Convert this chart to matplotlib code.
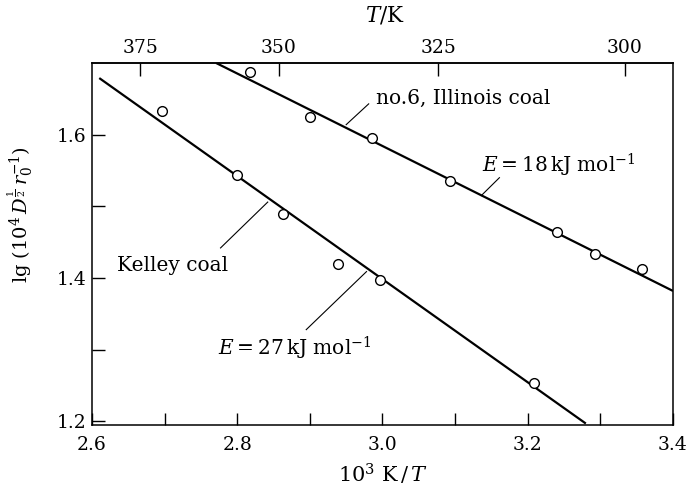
import matplotlib
matplotlib.use("Agg")
import matplotlib.pyplot as plt
import numpy as np

plt.rcParams['font.family'] = ['DejaVu Serif']
plt.rcParams['mathtext.fontset'] = 'dejavuserif'

# Data
kelley_x = [2.697, 2.800, 2.863, 2.939, 2.997, 3.208]
kelley_y = [1.633, 1.544, 1.489, 1.420, 1.397, 1.253]
illinois_x = [2.818, 2.900, 2.986, 3.093, 3.240, 3.293, 3.358]
illinois_y = [1.688, 1.624, 1.595, 1.535, 1.464, 1.434, 1.412]

kelley_fit_x = [2.61, 3.28]
kelley_fit_y = [1.679, 1.197]
illinois_fit_x = [2.771, 3.40]
illinois_fit_y = [1.700, 1.382]

x_ticks = [2.6, 2.7, 2.8, 2.9, 3.0, 3.1, 3.2, 3.3, 3.4]
x_ticklabels = ['2.6', '', '2.8', '', '3.0', '', '3.2', '', '3.4']
y_ticks = [1.2, 1.3, 1.4, 1.5, 1.6]
y_ticklabels = ['1.2', '', '1.4', '', '1.6']
top_ticks = [375, 350, 325, 300]
top_ticklabels = ['375', '350', '325', '300']

fig = plt.figure(figsize=(6.87, 4.90), dpi=100)
ax = fig.add_axes([0.1339, 0.1327, 0.9796 - 0.1339, 0.8714 - 0.1327])

ax.plot(kelley_fit_x, kelley_fit_y, color='black', lw=1.6, solid_capstyle='butt')
ax.plot(illinois_fit_x, illinois_fit_y, color='black', lw=1.6, solid_capstyle='butt')
ax.plot(kelley_x, kelley_y, 'o', ms=7, mfc='white', mec='black', mew=1.0, zorder=3)
ax.plot(illinois_x, illinois_y, 'o', ms=7, mfc='white', mec='black', mew=1.0, zorder=3)

ax.set_xlim(2.6, 3.4)
ax.set_ylim(1.195, 1.70)
ax.set_xticks(x_ticks)
ax.set_xticklabels(x_ticklabels)
ax.set_yticks(y_ticks)
ax.set_yticklabels(y_ticklabels)
ax.tick_params(axis='both', direction='in', length=9, width=1.0, labelsize=13.5)
ax.tick_params(axis='x', pad=8)
ax.tick_params(axis='y', pad=4)
for s in ax.spines.values():
    s.set_linewidth(1.1)

sec = ax.secondary_xaxis('top', functions=(lambda x: 1000.0 / x, lambda T: 1000.0 / T))
sec.set_xticks(top_ticks)
sec.set_xticklabels(top_ticklabels)
sec.tick_params(direction='in', length=9, width=1.0, labelsize=13.5, pad=4)
sec.spines['top'].set_linewidth(1.1)

# Axis labels
fig.text(383 / 687, 1 - 474 / 490, r'$10^3\ \mathrm{K}\,/\,T$', ha='center', va='center', fontsize=15)
fig.text(385 / 687, 1 - 16 / 490, r'$T/\mathrm{K}$', ha='center', va='center', fontsize=15.5)
fig.text(20 / 687, 1 - 215 / 490, r'$\mathrm{lg}\ (10^4\,D^{\frac{1}{2}}\,r_0^{-1})$',
         ha='center', va='center', rotation=90, fontsize=14)

# Annotations
ax.text(2.991, 1.650, 'no.6, Illinois coal', ha='left', va='center', fontsize=14.5)
ax.plot([2.950, 2.981], [1.614, 1.643], color='black', lw=0.8)
ax.text(3.137, 1.557, r'$E=18\,\mathrm{kJ\ mol^{-1}}$', ha='left', va='center', fontsize=14.5)
ax.plot([3.136, 3.161], [1.515, 1.540], color='black', lw=0.8)
ax.text(2.634, 1.417, 'Kelley coal', ha='left', va='center', fontsize=14.5)
ax.plot([2.777, 2.842], [1.442, 1.506], color='black', lw=0.8)
ax.text(2.773, 1.302, r'$E=27\,\mathrm{kJ\ mol^{-1}}$', ha='left', va='center', fontsize=14.5)
ax.plot([2.895, 2.978], [1.328, 1.409], color='black', lw=0.8)

fig.savefig('out.png', dpi=100)
